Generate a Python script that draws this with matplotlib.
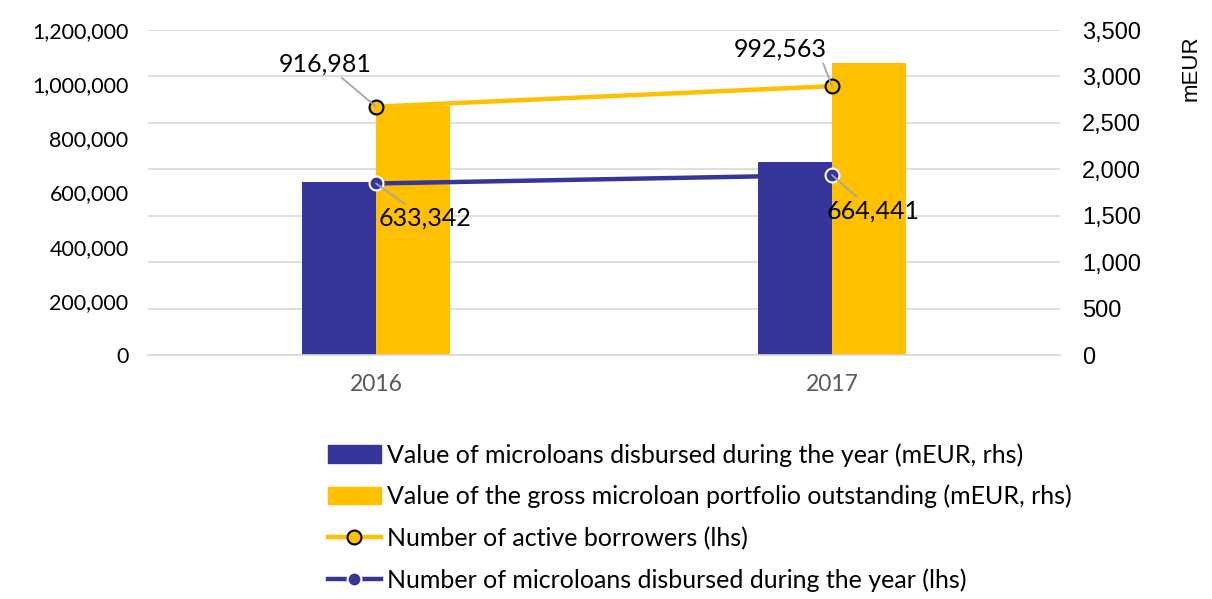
import matplotlib
matplotlib.use('Agg')
import matplotlib.pyplot as plt
from matplotlib.patches import Patch
from matplotlib.lines import Line2D
from matplotlib.ticker import FuncFormatter
import numpy as np

years = ['2016', '2017']
value_disbursed = [1866, 2082]        # mEUR, rhs
value_portfolio = [2681, 3140]        # mEUR, rhs
active_borrowers = [916981, 992563]   # lhs
loans_disbursed = [633342, 664441]    # lhs

blue = '#35359A'
yellow = '#FFC000'
grey_text = '#595959'

plt.rcParams['font.family'] = ['Lato', 'DejaVu Sans']

fig = plt.figure(figsize=(12.12, 5.99), dpi=100)
ax = fig.add_axes([148 / 1212, 1 - 355 / 599, (1060 - 148) / 1212, (355 - 30) / 599])

# bars on the right-hand axis
x = np.arange(len(years))
w = 0.162
ax.bar(x - w / 2, value_disbursed, width=w, color=blue, zorder=2)
ax.bar(x + w / 2, value_portfolio, width=w, color=yellow, zorder=2)
ax.set_xlim(-0.5, 1.5)
ax.set_ylim(0, 3500)
ax.set_yticks(np.arange(0, 3501, 500))
ax.yaxis.set_major_formatter(FuncFormatter(lambda v, p: f'{int(v):,}'))
ax.grid(axis='y', color='#D9D9D9', linewidth=1.2, zorder=0)
ax.set_axisbelow(True)
ax.set_xticks(x)
ax.set_xticklabels(years, color=grey_text, fontsize=16.5)
ax.tick_params(axis='x', length=0, pad=14)
for s in ['top', 'left', 'right']:
    ax.spines[s].set_visible(False)
ax.spines['bottom'].set_color('#D9D9D9')
ax.spines['bottom'].set_linewidth(1.2)

# lines on the left-hand axis
ax2 = ax.twinx()
ax2.set_ylim(0, 1200000)
ax2.set_yticks(np.arange(0, 1200001, 200000))
ax2.yaxis.set_major_formatter(FuncFormatter(lambda v, p: f'{int(v):,}'))
for s in ax2.spines.values():
    s.set_visible(False)

ax.yaxis.tick_right()
ax.yaxis.set_label_position('right')
ax2.yaxis.tick_left()
ax2.yaxis.set_label_position('left')
ax.tick_params(axis='y', which='both', left=False, labelleft=False, right=False, labelright=True,
               length=0, pad=16, labelsize=17, labelfontfamily='Liberation Sans')
ax2.tick_params(axis='y', which='both', right=False, labelright=False, left=False, labelleft=True,
                length=0, pad=14, labelsize=15.5)
ax.set_ylabel('mEUR', fontsize=16, fontfamily='Liberation Sans')
ax.yaxis.set_label_coords(1.132, 0.883)

ax2.plot(x, active_borrowers, color=yellow, linewidth=3.2, marker='o', markersize=10,
         markerfacecolor=yellow, markeredgecolor='black', markeredgewidth=1.5, zorder=3)
ax2.plot(x, loans_disbursed, color=blue, linewidth=3.2, marker='o', markersize=10,
         markerfacecolor=blue, markeredgecolor='white', markeredgewidth=1.5, zorder=3)

arrow = dict(arrowstyle='-', color='#A6A6A6', linewidth=1.3, shrinkA=0, shrinkB=0)
ax2.annotate(f'{active_borrowers[0]:,}', (x[0], active_borrowers[0]), xytext=(-51, 43),
             textcoords='offset pixels', ha='center', va='center', fontsize=18, arrowprops=arrow)
ax2.annotate(f'{active_borrowers[1]:,}', (x[1], active_borrowers[1]), xytext=(-52, 37),
             textcoords='offset pixels', ha='center', va='center', fontsize=18,
             arrowprops=dict(arrow, relpos=(1, 0.5), connectionstyle='angle,angleA=0,angleB=111,rad=0'))
ax2.annotate(f'{loans_disbursed[0]:,}', (x[0], loans_disbursed[0]), xytext=(49, -35),
             textcoords='offset pixels', ha='center', va='center', fontsize=18, arrowprops=arrow)
ax2.annotate(f'{loans_disbursed[1]:,}', (x[1], loans_disbursed[1]), xytext=(41, -36),
             textcoords='offset pixels', ha='center', va='center', fontsize=18, arrowprops=arrow)

handles = [
    Patch(color=blue),
    Patch(color=yellow),
    Line2D([], [], color=yellow, linewidth=3.2, marker='o', markersize=10,
           markerfacecolor=yellow, markeredgecolor='black', markeredgewidth=1.5),
    Line2D([], [], color=blue, linewidth=3.2, marker='o', markersize=10,
           markerfacecolor=blue, markeredgecolor='white', markeredgewidth=1.5),
]
labels = [
    'Value of microloans disbursed during the year (mEUR, rhs)',
    'Value of the gross microloan portfolio outstanding (mEUR, rhs)',
    'Number of active borrowers (lhs)',
    'Number of microloans disbursed during the year (lhs)',
]
fig.legend(handles, labels, loc='upper left', bbox_to_anchor=(328 / 1212, 1 - 443 / 599),
           frameon=False, fontsize=18, handlelength=2.1, handletextpad=0.25,
           labelspacing=0.73, borderpad=0, borderaxespad=0)

fig.savefig('out.png', dpi=100)
